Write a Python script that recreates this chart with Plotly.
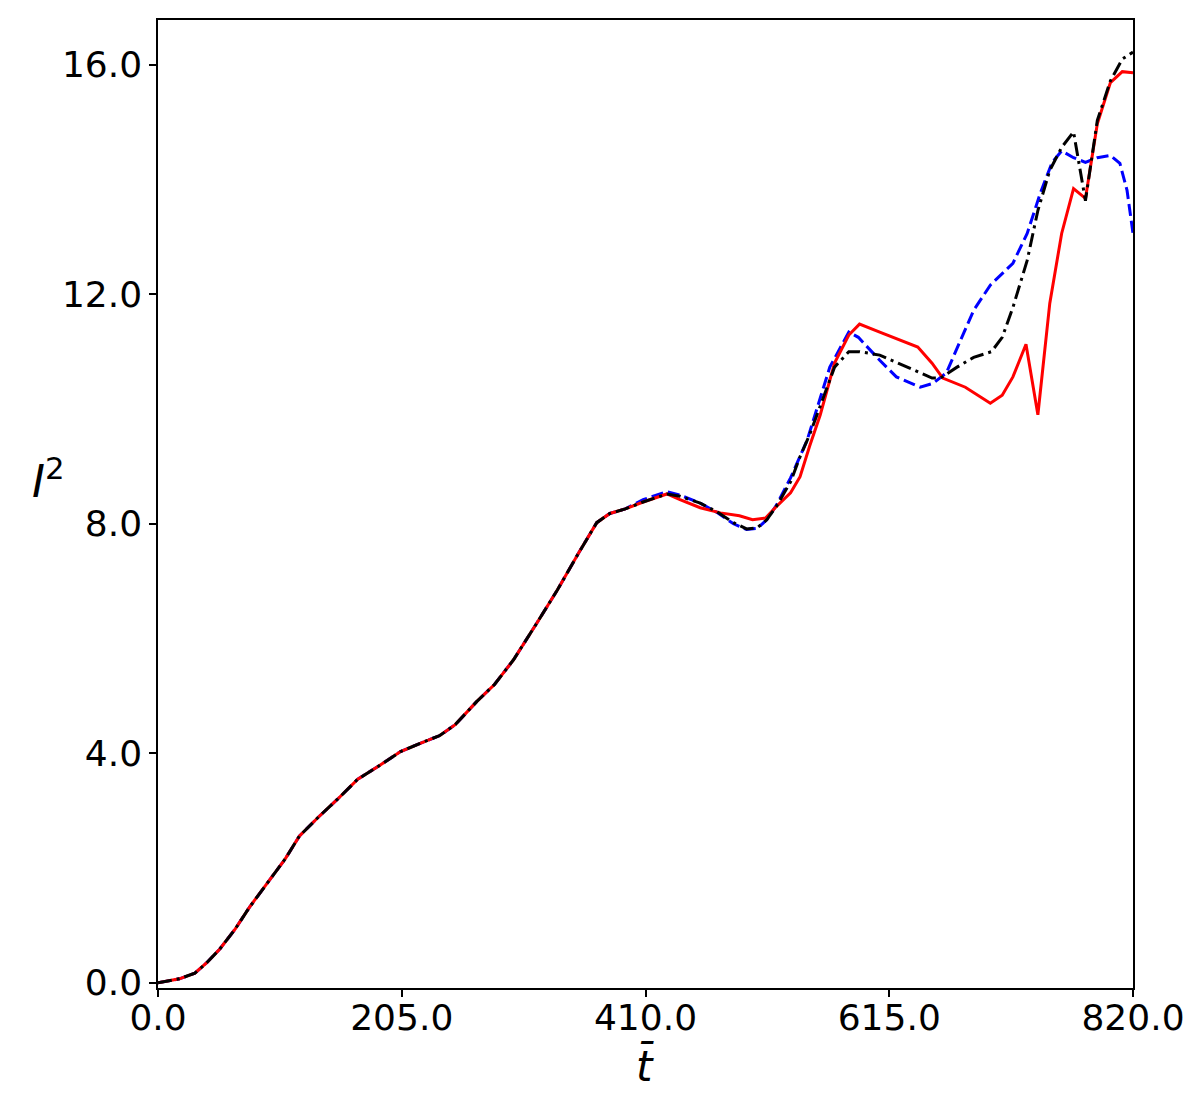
import plotly.graph_objects as go

# shared early part (all three runs coincide)
t_common = [0, 18, 31, 41, 52, 65, 77, 92, 107, 119, 135, 151, 168, 185, 204, 220,
            237, 250, 268, 283, 299, 318, 336, 354, 369, 380, 393]
v_common = [0.0, 0.07, 0.17, 0.35, 0.59, 0.94, 1.32, 1.74, 2.16, 2.56, 2.89, 3.2,
            3.55, 3.77, 4.03, 4.17, 4.31, 4.5, 4.9, 5.2, 5.63, 6.25, 6.85, 7.5,
            8.02, 8.18, 8.26]

t_red = [408, 428, 439, 456, 473, 489, 500, 511, 520, 532, 540, 548, 557, 569, 581,
         590, 607, 630, 639, 651, 660, 679, 700, 710, 719, 730, 740, 750, 760, 770,
         780, 790, 801, 811, 820]
v_red = [8.38, 8.52, 8.42, 8.28, 8.19, 8.14, 8.07, 8.1, 8.3, 8.54, 8.82, 9.35, 9.9,
         10.8, 11.29, 11.48, 11.34, 11.15, 11.08, 10.8, 10.54, 10.38, 10.1, 10.24,
         10.56, 11.13, 9.9, 11.84, 13.06, 13.84, 13.67, 14.97, 15.69, 15.88, 15.86]

t_black = [408, 428, 439, 456, 470, 484, 495, 504, 512, 520, 532, 540, 548, 569, 581,
           590, 607, 630, 651, 658, 672, 686, 701, 710, 719, 731, 740, 750, 760, 770,
           780, 790, 801, 811, 820]
v_black = [8.38, 8.52, 8.48, 8.36, 8.21, 8.02, 7.91, 7.93, 8.07, 8.3, 8.73, 9.17,
           9.55, 10.73, 11.0, 11.0, 10.94, 10.73, 10.54, 10.54, 10.73, 10.9, 11.0,
           11.25, 11.77, 12.59, 13.46, 14.16, 14.56, 14.83, 13.63, 15.03, 15.72,
           16.1, 16.22]

t_blue = [408, 428, 439, 456, 470, 484, 495, 504, 512, 520, 532, 546, 565, 581, 589,
          607, 621, 641, 652, 663, 675, 686, 700, 719, 731, 742, 752, 760, 770, 780,
          790, 801, 809, 815, 820]
v_blue = [8.42, 8.56, 8.5, 8.36, 8.2, 8.0, 7.9, 7.92, 8.07, 8.32, 8.8, 9.46, 10.73,
          11.34, 11.25, 10.85, 10.56, 10.38, 10.45, 10.63, 11.2, 11.72, 12.16, 12.54,
          13.06, 13.76, 14.3, 14.5, 14.38, 14.3, 14.38, 14.42, 14.28, 13.81, 13.06]

x_ticks = [0.0, 205.0, 410.0, 615.0, 820.0]
y_ticks = [0.0, 4.0, 8.0, 12.0, 16.0]

fig = go.Figure()
fig.add_trace(go.Scatter(x=t_common + t_blue, y=v_common + v_blue, mode="lines",
                         line=dict(color="blue", width=3, dash="12px,5px")))
fig.add_trace(go.Scatter(x=t_common + t_red, y=v_common + v_red, mode="lines",
                         line=dict(color="red", width=3)))
fig.add_trace(go.Scatter(x=t_common + t_black, y=v_common + v_black, mode="lines",
                         line=dict(color="black", width=3, dash="14px,5px,3px,5px")))

axis_common = dict(showgrid=False, zeroline=False, showline=True, linecolor="black",
                   linewidth=1.5, mirror=True, ticks="outside", ticklen=7,
                   tickwidth=1.5, tickcolor="black",
                   tickfont=dict(family="DejaVu Sans", size=36, color="black"))
fig.update_xaxes(range=[0, 820], tickvals=x_ticks, ticklabelstandoff=-10,
                 ticktext=[f"{v:.1f}" for v in x_ticks], **axis_common)
fig.update_yaxes(range=[-0.09, 16.78], tickvals=y_ticks,
                 ticktext=[f"{v:.1f}" for v in y_ticks], **axis_common)

fig.add_annotation(text="<i>I</i><sup>2</sup>", xref="paper", yref="paper",
                   x=-0.112, y=0.526, showarrow=False, xanchor="center",
                   yanchor="middle",
                   font=dict(family="DejaVu Sans", size=44, color="black"))
fig.add_annotation(text="<i>t\u0304</i>", xref="paper", yref="paper",
                   x=0.4995, y=-0.08, showarrow=False, xanchor="center",
                   yanchor="middle",
                   font=dict(family="DejaVu Sans", size=42, color="black"))

fig.update_layout(width=1200, height=1093, showlegend=False,
                  plot_bgcolor="white", paper_bgcolor="white",
                  margin=dict(l=150, r=75, t=10, b=113))
fig.write_html("out.html")
